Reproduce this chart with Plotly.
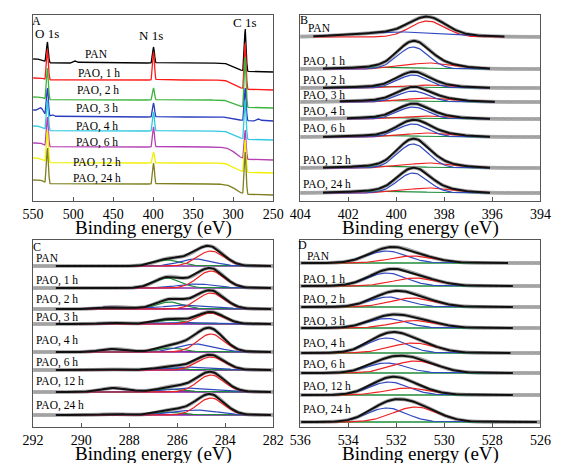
import numpy as np
import plotly.graph_objects as go

W, H = 561, 463
labels = ["PAN", "PAO, 1 h", "PAO, 2 h", "PAO, 3 h", "PAO, 4 h", "PAO, 6 h", "PAO, 12 h", "PAO, 24 h"]

# ---------------- Panel A: survey spectra (intensity, arbitrary units) ----------------
surv_colors = ["#000000", "#ff1a1a", "#3cb43c", "#2a3cbf", "#30c8e0", "#b440b4", "#f0f000", "#7f7f1f"]
surv_left = [142, 123, 104, 91, 75, 58, 43, 21]
surv_flat = [138, 121, 101, 84, 70, 54, 38, 17]
surv_right = [129, 111, 93, 80, 61, 41, 28, 6]
surv_O = [159, 152, 133, 113, 101, 84, 71, 53]
surv_N = [154, 149, 113, 98, 89, 74, 49, 38]
surv_C = [172, 158, 144, 113, 101, 71, 61, 49]
surv_extra = [[(497, 2)], [], [], [(540, 3), (525, 2), (268, 2)], [], [], [], []]
surv_peak_pos = [532, 399.5, 285.0]

# ---------------- Panel B: N 1s ----------------
b_base = [164, 132, 113, 99, 82, 64, 33, 8]
b_blue_c = [399.7, 399.3, 399.3, 399.3, 399.3, 399.3, 399.3, 399.3]
b_blue_a = [5, 22, 13, 11, 12, 13, 24, 20]
b_blue_w = [4.5, 1.5, 1.5, 1.5, 1.5, 1.5, 1.5, 1.5]
b_red_c = [398.7, 398.6, 398.6, 398.6, 398.6, 398.6, 398.6, 398.6]
b_red_a = [16, 6, 3, 4, 3, 4, 5, 5]
b_red_w = [1.7, 2.5, 2.5, 2.5, 2.5, 2.5, 2.5, 2.5]
b_green_c = [400.6] * 8
b_green_a = [0, 2, 1.5, 1.5, 1.5, 1.5, 2, 2]
b_green_w = [3.2] * 8
b_lo = [395.5, 396.1, 396.1, 395.9, 396.1, 396.1, 396.1, 396.1]
b_hi = [403.5, 403.1, 403.1, 402.4, 402.1, 403.1, 403.1, 403.1]

# ---------------- Panel C: C 1s ----------------
c_base = [161, 139, 118, 103, 75, 57, 35, 12]
c_red_c = [284.6] * 8
c_red_a = [15, 17, 16, 11, 18, 13, 17, 17]
c_red_w = [1.3] * 8
c_blue_c = [285.2, 285.2, 285.5, 285.5, 285.2, 285.3, 285.3, 285.2]
c_blue_a = [7, 4, 4, 1.5, 8, 3, 4, 5]
c_blue_w = [1.6, 1.8, 2.4, 2.4, 1.8, 2.2, 2.4, 2.0]
c_green_c = [286.4, 286.4, 286.3, 286.3, 286.3, 286.3, 286.2, 286.3]
c_green_a = [6, 10, 7, 4, 4, 2, 3, 3]
c_green_w = [1.3] * 8
c_purple_c = [288.6] * 8
c_purple_a = [0, 0, 2, 1, 3, 0.5, 4, 0.8]
c_purple_w = [1.3] * 8
c_lo = [282.1] * 8
c_hi = [291.1] * 8

# ---------------- Panel D: O 1s ----------------
d_base = [164, 141, 120, 99, 74, 54, 32, 5]
d_blue_c = [532.4, 532.4, 532.3, 532.4, 532.4, 532.4, 532.3, 532.4]
d_blue_a = [12, 13, 10, 9.5, 15, 10, 13, 14]
d_blue_w = [1.9] * 8
d_red_c = [531.3, 531.2, 531.3, 531.2, 531.3, 531.2, 531.5, 531.2]
d_red_a = [7, 8, 9, 7.5, 10, 12, 7, 15]
d_red_w = [2.2] * 8
d_lo = [527.3, 527.1, 527.1, 527.1, 527.2, 527.1, 527.1, 526.1]
d_hi = [535.95] * 8

RED, BLUE, GREEN, PURPLE = "#ee2222", "#3048c0", "#1e8c3a", "#8a2aa8"
FONT = "Liberation Serif"

fig = go.Figure()


def gauss(x, c, a, w):
    return a * np.exp(-4 * np.log(2) * ((x - c) / w) ** 2)


def sig(z):
    return 1.0 / (1.0 + np.exp(-z))


# Panel A
xs = np.arange(250, 550.01, 0.5)
for i in range(8):
    bg = surv_right[i] + (surv_flat[i] - surv_right[i]) * sig((xs - 297) / 5) \
        + (surv_left[i] - surv_flat[i]) * sig((xs - 536) / 2)
    y = bg.copy()
    for pos, top in zip(surv_peak_pos, [surv_O[i], surv_N[i], surv_C[i]]):
        b0 = np.interp(pos, xs, bg)
        y = y + gauss(xs, pos, top - b0, 2.6)
    for pos, amp in surv_extra[i]:
        y = y + gauss(xs, pos, amp, 5)
    fig.add_trace(go.Scatter(x=xs, y=y, mode="lines", line=dict(color=surv_colors[i], width=1.3),
                             xaxis="x", yaxis="y", showlegend=False, hoverinfo="skip"))


def add_panel(ax, ay, rng, base, comps, lo, hi, baseline_color=None):
    x0, x1 = min(rng), max(rng)
    xf = np.arange(x0, x1 + 1e-9, 0.05)
    for i in range(8):
        env = np.zeros_like(xf)
        for (cc, aa, ww, col) in comps:
            env = env + gauss(xf, cc[i], aa[i], ww[i])
        fig.add_trace(go.Scatter(x=xf, y=base[i] + env, mode="lines+markers",
                                 line=dict(color="#b0b0b0", width=1),
                                 marker=dict(symbol="circle-open", size=3, color="#9a9a9a", line=dict(width=0.7)),
                                 xaxis=ax, yaxis=ay, showlegend=False, hoverinfo="skip"))
        m = (xf >= lo[i]) & (xf <= hi[i])
        xm = xf[m]
        if baseline_color:
            fig.add_trace(go.Scatter(x=xm, y=np.full_like(xm, base[i]), mode="lines",
                                     line=dict(color=baseline_color, width=1.4),
                                     xaxis=ax, yaxis=ay, showlegend=False, hoverinfo="skip"))
        for (cc, aa, ww, col) in comps:
            if aa[i] == 0:
                continue
            fig.add_trace(go.Scatter(x=xm, y=base[i] + gauss(xm, cc[i], aa[i], ww[i]), mode="lines",
                                     line=dict(color=col, width=1.2),
                                     xaxis=ax, yaxis=ay, showlegend=False, hoverinfo="skip"))
        fig.add_trace(go.Scatter(x=xm, y=base[i] + env[m], mode="lines",
                                 line=dict(color="#111111", width=2),
                                 xaxis=ax, yaxis=ay, showlegend=False, hoverinfo="skip"))


add_panel("x2", "y2", [404, 394], b_base,
          [(b_green_c, b_green_a, b_green_w, GREEN), (b_red_c, b_red_a, b_red_w, RED),
           (b_blue_c, b_blue_a, b_blue_w, BLUE)], b_lo, b_hi)
add_panel("x3", "y3", [292, 282], c_base,
          [(c_purple_c, c_purple_a, c_purple_w, PURPLE), (c_green_c, c_green_a, c_green_w, GREEN),
           (c_blue_c, c_blue_a, c_blue_w, BLUE), (c_red_c, c_red_a, c_red_w, RED)], c_lo, c_hi,
          baseline_color=PURPLE)
add_panel("x4", "y4", [536, 526], d_base,
          [(d_blue_c, d_blue_a, d_blue_w, BLUE), (d_red_c, d_red_a, d_red_w, RED)], d_lo, d_hi,
          baseline_color=GREEN)


def px(x, y):
    return x / W, 1 - y / H


def xaxis_cfg(dom, rng, dtick, anchor):
    return dict(domain=dom, range=rng, dtick=dtick, anchor=anchor, showline=True, mirror=True,
                linecolor="#555555", linewidth=1.3, ticks="inside", ticklen=4, tickcolor="#555555",
                tickfont=dict(family=FONT, size=14, color="#000"), showgrid=False, zeroline=False)


def yaxis_cfg(dom, rng, anchor):
    return dict(domain=dom, range=rng, anchor=anchor, showline=True, mirror=True,
                linecolor="#555555", linewidth=1.3, showticklabels=False, ticks="",
                showgrid=False, zeroline=False)


xl = [23 / W, 273 / W]
xr = [301 / W, 551 / W]
yt = [1 - 201 / H, 1 - 15 / H]
yb = [1 - 427 / H, 1 - 240 / H]

fig.update_layout(
    width=W, height=H, margin=dict(l=0, r=0, t=0, b=0),
    paper_bgcolor="white", plot_bgcolor="white", showlegend=False,
    xaxis=xaxis_cfg(xl, [550, 250], 50, "y"),
    yaxis=yaxis_cfg(yt, [0, 186], "x"),
    xaxis2=xaxis_cfg(xr, [404, 394], 2, "y2"),
    yaxis2=yaxis_cfg(yt, [0, 186], "x2"),
    xaxis3=xaxis_cfg(xl, [292, 282], 2, "y3"),
    yaxis3=yaxis_cfg(yb, [0, 187], "x3"),
    xaxis4=xaxis_cfg(xr, [536, 526], 2, "y4"),
    yaxis4=yaxis_cfg(yb, [0, 187], "x4"),
)

ann = []


def text(t, x, y, size=11, anchor="center"):
    X, Y = px(x, y)
    ann.append(dict(text=t, x=X, y=Y, xref="paper", yref="paper", showarrow=False,
                    xanchor=anchor, yanchor="middle", font=dict(family=FONT, size=size, color="#000")))


text("A", 27, 21, 12)
text("B", 305, 20, 12)
text("C", 27, 247, 12)
text("D", 303, 245, 12)
text("O 1s", 37, 34, 13)
text("N 1s", 146, 35, 13)
text("C 1s", 243, 23, 13)

a_lab_pos = [(89, 54), (92, 73), (91, 91), (89, 108), (89, 126), (90, 143), (90, 162), (90, 179)]
for t, (x, y) in zip(labels, a_lab_pos):
    text(t, x, y, 11.5)

b_lab_y = [28, 61, 80, 95, 112, 128, 160, 184]
c_lab_y = [258, 280, 299, 317, 340, 362, 381, 405]
d_lab_y = [256, 279, 299, 321, 343, 364, 386, 409]
for i, t in enumerate(labels):
    if i == 0:
        text(t, 307, b_lab_y[i], 11.5, "left")
        text(t, 306, d_lab_y[i], 11.5, "left")
    else:
        text(t, 302, b_lab_y[i], 11.5, "left")
        text(t, 302, d_lab_y[i], 11.5, "left")
    text(t, 24, c_lab_y[i], 11.5, "left")

for (x, y) in [(148, 228), (426, 228), (148, 454), (426, 454)]:
    text("Binding energy (eV)", x, y, 19)

fig.update_layout(annotations=ann)
fig.write_html("out.html", config={"displayModeBar": False},
               post_script="document.body.style.margin='0';document.body.style.overflow='hidden';")
